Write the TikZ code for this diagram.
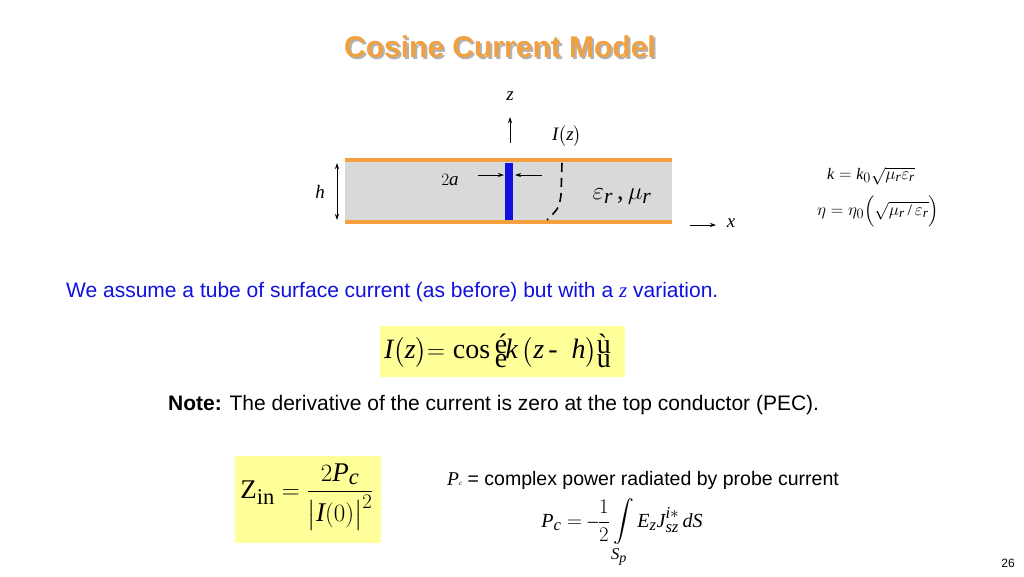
\documentclass[tikz,border=0pt]{standalone}
\usepackage{amsmath}
\usepackage{fontspec}
\setsansfont{Liberation Sans}
\setmainfont{Liberation Serif}
\usepackage[italic]{mathastext}
\usetikzlibrary{arrows.meta}
\definecolor{ttl}{HTML}{F0A040}
\definecolor{cond}{HTML}{F4A040}
\definecolor{slab}{HTML}{D9D9D9}
\definecolor{ylw}{HTML}{FFFF99}
\definecolor{bl}{HTML}{1010E0}
\tikzset{
  txt/.style={font=\sffamily\fontsize{21}{23}\selectfont, inner sep=0pt},
  mth/.style={font=\fontsize{19}{21}\selectfont, inner sep=0pt},
  arr/.style={-{Stealth[length=6pt,width=4pt]}, line width=0.8pt},
}
\begin{document}
\begin{tikzpicture}[x=1pt,y=-1pt]
\useasboundingbox (0,0) rectangle (1024,576);
% title
\node[font=\sffamily\bfseries\fontsize{30}{32}\selectfont, text=gray!60, inner sep=0] at (502,49) {Cosine Current Model};
\node[font=\sffamily\bfseries\fontsize{30}{32}\selectfont, text=ttl, inner sep=0] (title) at (500,47) {Cosine Current Model};
% slab
\fill[slab] (345,160) rectangle (672,222);
\draw[cond, line width=4pt] (345,160) -- (672,160);
\draw[cond, line width=4pt] (345,222) -- (672,222);
\fill[bl] (505,163) rectangle (513,220);
% z axis
\coordinate (z0) at (510,143); \coordinate (z1) at (510,117);
\draw[arr] (z0) -- (z1);
\node[mth] (zl) at (510,96) {$z$};
\node[mth] (Iz) at (567,136) {$I\big(z\big)$};
% 2a
\node[mth] (ta) at (450,180) {$2a$};
\coordinate (a0) at (478,175); \coordinate (a1) at (504,175);
\coordinate (b0) at (542,175); \coordinate (b1) at (515,175);
\draw[arr] (a0) -- (a1);
\draw[arr] (b0) -- (b1);
% dashed current
\draw[line width=1.6pt, dash pattern=on 9pt off 6pt] (562,163) -- (561,195) .. controls (559,208) .. (547,220);
\node[mth, font=\fontsize{26}{28}\selectfont] (eps) at (622,197) {$\varepsilon_r\,,\mu_r$};
% h
\node[mth] (hl) at (320,192) {$h$};
\coordinate (h0) at (337,163); \coordinate (h1) at (337,220);
\draw[{Stealth[length=6pt,width=4pt]}-{Stealth[length=6pt,width=4pt]}, line width=0.8pt] (h0) -- (h1);
% x
\coordinate (x0) at (690,225); \coordinate (x1) at (716,225);
\draw[arr] (x0) -- (x1);
\node[mth] (xl) at (731,223) {$x$};
% k, eta
\node[mth, font=\fontsize{16}{18}\selectfont, anchor=west] (keq) at (827,176) {$k = k_0\sqrt{\mu_r\varepsilon_r}$};
\node[mth, font=\fontsize{16}{18}\selectfont, anchor=west] (etaeq) at (817,211) {$\eta = \eta_0\Big(\sqrt{\mu_r\,/\,\varepsilon_r}\Big)$};
% blue text
\node[txt, anchor=west, text=bl] (assume) at (66,292) {We assume a tube of surface current (as before) but with a {\rmfamily\itshape z} variation.};
% equation box
\fill[ylw] (380,326) rectangle (625,377);
\node[mth, font=\fontsize{28}{30}\selectfont, anchor=west] (ieq) at (384,351) {$I\big(z\big){=}$\;cos\,\rlap{\raisebox{5pt}{\'e}}\raisebox{-9pt}{e}\hspace{-2pt}$k\,\big(z\,\text{-}\;\;h\big)$\rlap{\raisebox{5pt}{\`u}}\raisebox{-9pt}{u}};
% note
\node[txt, anchor=west] (note) at (168,405) {\textbf{Note:} The derivative of the current is zero at the top conductor (PEC).};
% Zin box
\fill[ylw] (235,456) rectangle (381,543);
\node[mth, font=\fontsize{27}{29}\selectfont] (zin) at (307,497) {$\mathrm{Z}_{\mathrm{in}} = \dfrac{2P_c}{\big|I(0)\big|^2}$};
% Pc
\node[txt, anchor=west, font=\sffamily\fontsize{19.5}{21}\selectfont] (pc) at (447,480) {{\rmfamily\itshape P}{\rmfamily\scriptsize\itshape c} = complex power radiated by probe current};
\node[mth, font=\fontsize{20}{22}\selectfont] (pceq) at (622,533) {$P_c = -\dfrac{1}{2}\displaystyle\int\limits_{S_p} E_z J^{i*}_{sz}\,dS$};
\node[txt, font=\sffamily\fontsize{12}{13}\selectfont] (pg) at (1008,563) {26};
\end{tikzpicture}
\end{document}
